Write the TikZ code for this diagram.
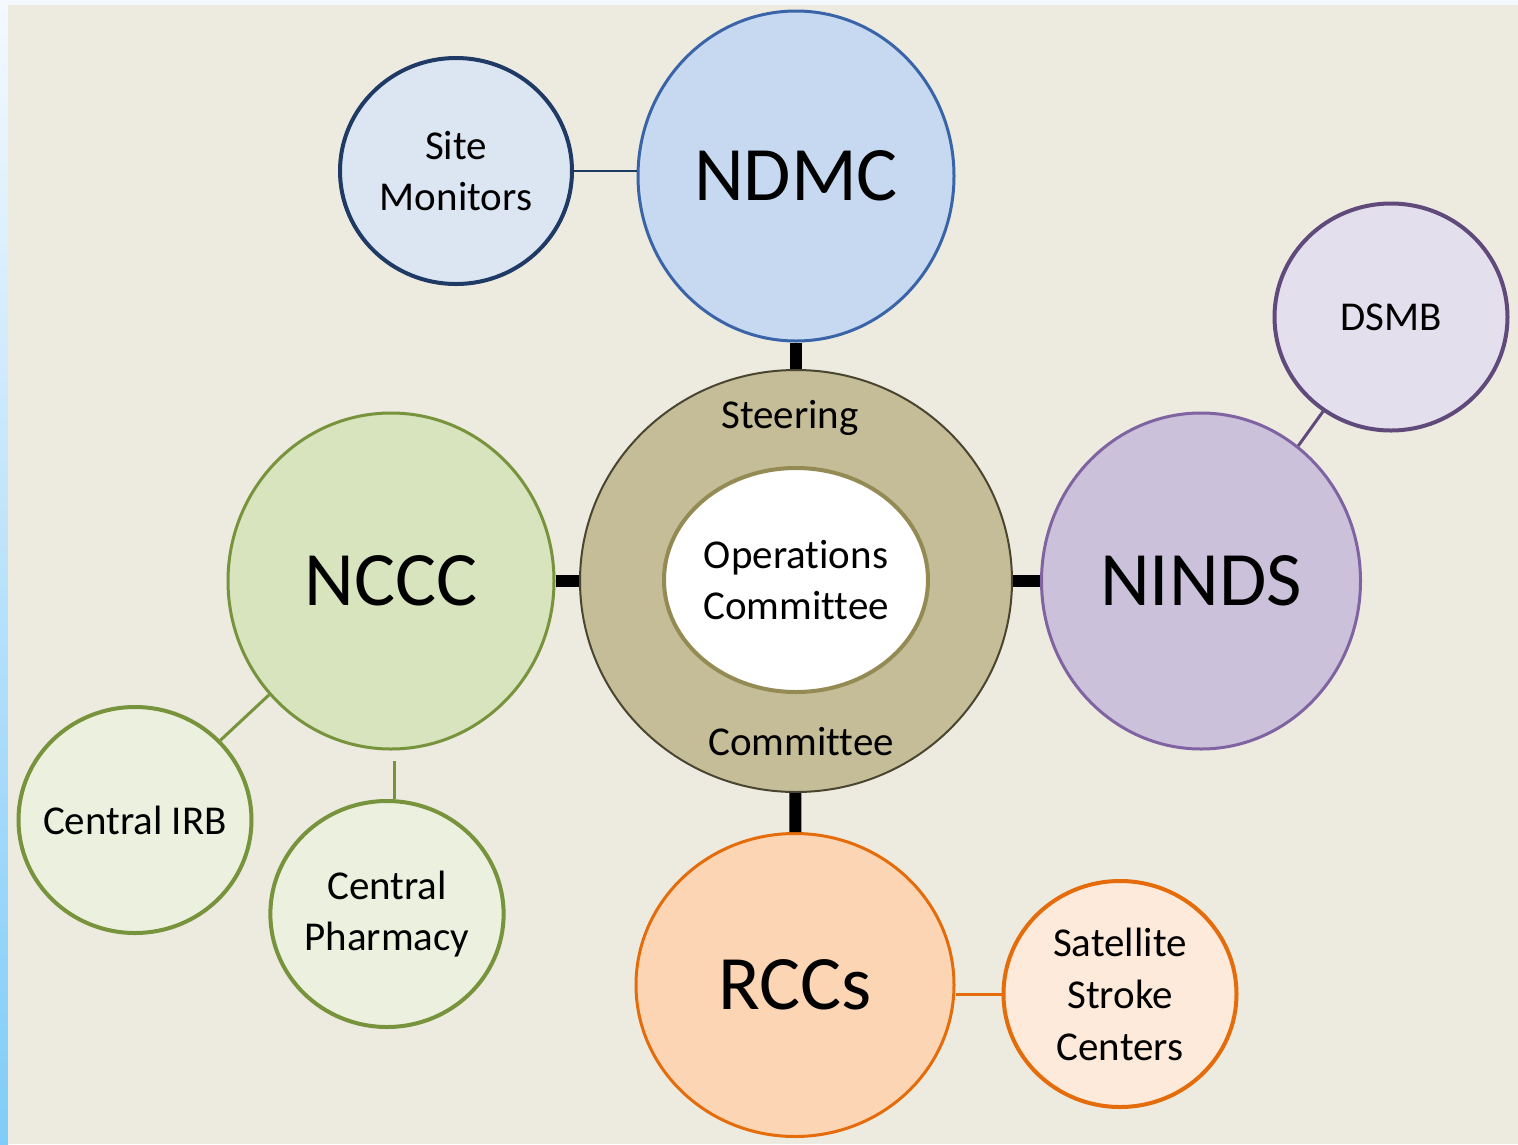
\documentclass[tikz,border=0pt]{standalone}
\usepackage{fontspec}
\setmainfont{Carlito}[Ligatures={NoCommon}]
\usetikzlibrary{shapes.geometric}
\definecolor{bgbeige}{HTML}{EDEBE0}
\definecolor{stripTop}{HTML}{F4F9FE}
\definecolor{stripBot}{HTML}{80CCF8}
\definecolor{ndmcFill}{HTML}{C6D9F1}
\definecolor{ndmcLine}{HTML}{3A64A8}
\definecolor{siteFill}{HTML}{DCE6F2}
\definecolor{siteLine}{HTML}{1F3A64}
\definecolor{steerFill}{HTML}{C4BD97}
\definecolor{steerLine}{HTML}{4A4530}
\definecolor{opsLine}{HTML}{948A54}
\definecolor{ncccFill}{HTML}{D7E4BD}
\definecolor{greenLine}{HTML}{77933C}
\definecolor{irbFill}{HTML}{EBF1DE}
\definecolor{nindsFill}{HTML}{CCC1DA}
\definecolor{nindsLine}{HTML}{8064A2}
\definecolor{dsmbFill}{HTML}{E4DFEC}
\definecolor{dsmbLine}{HTML}{604A7B}
\definecolor{rccFill}{HTML}{FCD5B5}
\definecolor{orangeLine}{HTML}{E46C0A}
\definecolor{satFill}{HTML}{FDEADA}
\tikzset{
  blob/.style={ellipse, inner sep=0pt, align=center},
  bigtext/.style={font=\fontsize{77}{80}\selectfont},
  smalltext/.style={font=\fontsize{41}{51}\selectfont},
  thickc/.style={line width=12pt, black},
}
\begin{document}
\begin{tikzpicture}[x=1pt,y=-1pt]
\useasboundingbox (0,0) rectangle (1518,1144);
\shade[top color=stripTop, bottom color=stripBot] (0,0) rectangle (8,1144);
\fill[stripTop] (8,0) rectangle (1518,5);
\fill[bgbeige] (8,5) rectangle (1518,1144);

% Steering ring
\node[blob, fill=steerFill, draw=steerLine, line width=2pt,
      minimum width=432pt, minimum height=422pt] (steer) at (796,581) {};
\node[blob, fill=white, draw=opsLine, line width=4pt,
      minimum width=264pt, minimum height=224pt, smalltext] (ops) at (796,580) {Operations\\Committee};
\node[smalltext, inner sep=0pt] (steerlbl) at (790,418) {Steering};
\node[smalltext, inner sep=0pt] (commlbl) at (801,742) {Committee};

% main circles
\node[blob, fill=ndmcFill, draw=ndmcLine, line width=3pt,
      minimum width=316pt, minimum height=330pt, bigtext] (ndmc) at (796,176) {NDMC};
\node[blob, fill=ncccFill, draw=greenLine, line width=3pt,
      minimum width=326pt, minimum height=336pt, bigtext] (nccc) at (391,581) {NCCC};
\node[blob, fill=nindsFill, draw=nindsLine, line width=3pt,
      minimum width=319pt, minimum height=336pt, bigtext] (ninds) at (1201,581) {NINDS};
\node[blob, fill=rccFill, draw=orangeLine, line width=3pt,
      minimum width=318pt, minimum height=303pt, bigtext] (rccs) at (795,985) {RCCs};

% satellites
\node[blob, fill=siteFill, draw=siteLine, line width=4pt,
      minimum width=232pt, minimum height=226pt, smalltext] (site) at (456,171) {Site\\Monitors};
\node[blob, fill=dsmbFill, draw=dsmbLine, line width=4pt,
      minimum width=233pt, minimum height=227pt, smalltext] (dsmb) at (1391,317) {DSMB};
\node[blob, fill=irbFill, draw=greenLine, line width=4pt,
      minimum width=233pt, minimum height=226pt, smalltext] (irb) at (135,820) {\makebox[0pt]{Central IRB}};
\node[blob, fill=irbFill, draw=greenLine, line width=4pt,
      minimum width=233pt, minimum height=226pt, smalltext] (pharm) at (387,914) {Central\\Pharmacy};
\node[blob, fill=satFill, draw=orangeLine, line width=4pt,
      minimum width=233pt, minimum height=226pt, smalltext,
      font=\fontsize{41}{52}\selectfont] (sat) at (1120,994) {Satellite\\Stroke\\Centers};

% thick connectors
\draw[thickc] (ndmc) -- (steer);
\draw[thickc] (nccc) -- (steer);
\draw[thickc] (steer) -- (ninds);
\draw[thickc] (steer) -- (rccs);

% thin connectors
\draw[siteLine, line width=2pt] (site.east) -- (site.east -| ndmc.west);
\draw[dsmbLine, line width=3pt] (dsmb) -- (ninds);
\draw[greenLine, line width=3pt] (nccc) -- (irb);
\coordinate (ncccfoot) at (394,761);
\draw[greenLine, line width=3pt] (ncccfoot) -- (ncccfoot |- pharm.north);
\draw[orangeLine, line width=3pt] (sat.west) -- (sat.west -| rccs.east);
\end{tikzpicture}
\end{document}
